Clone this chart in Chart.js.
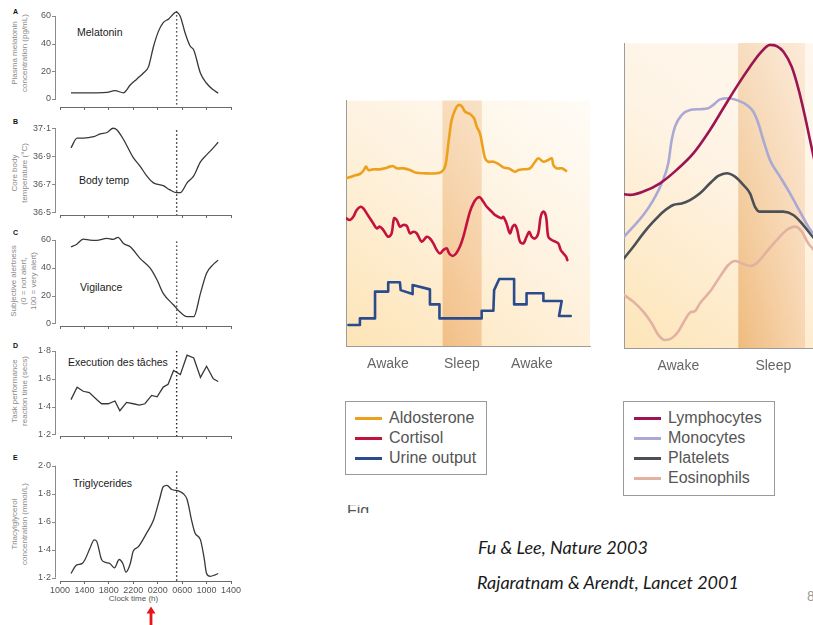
<!DOCTYPE html>
<html><head><meta charset="utf-8">
<script src="https://cdn.jsdelivr.net/npm/chart.js@4.4.1/dist/chart.umd.min.js"></script>
<style>
html,body{margin:0;padding:0;background:#fff;overflow:hidden;}
#wrap{position:relative;width:813px;height:625px;overflow:hidden;font-family:"Liberation Sans",Arial,sans-serif;background:#fff;}
canvas{position:absolute;}
.ylab{position:absolute;white-space:pre;text-align:center;font-size:8px;line-height:10px;color:#8a8a8a;transform:translate(-50%,-50%) rotate(-90deg);}
.letter{position:absolute;font-weight:bold;font-size:7px;line-height:8px;color:#111;}
.ptitle{position:absolute;font-size:10.5px;line-height:12px;color:#1a1a1a;white-space:nowrap;}
.legend{position:absolute;border:1px solid #9a9a9a;box-sizing:border-box;background:#fff;}
.li{position:absolute;font-size:16px;line-height:20px;color:#555;white-space:nowrap;}
.sw{position:absolute;height:3px;}
.cite{position:absolute;font-family:Lato,"Liberation Sans",sans-serif;font-style:italic;font-size:18px;line-height:20px;color:#1a1a1a;white-space:nowrap;}
</style></head>
<body><div id="wrap">
<div class="letter" style="left:13px;top:8px">A</div>
<div class="letter" style="left:13px;top:118px">B</div>
<div class="letter" style="left:13px;top:229px">C</div>
<div class="letter" style="left:13px;top:342px">D</div>
<div class="letter" style="left:13px;top:454px">E</div>
<div class="ptitle" style="left:77px;top:26px">Melatonin</div>
<div class="ptitle" style="left:79px;top:174px">Body temp</div>
<div class="ptitle" style="left:80px;top:281px">Vigilance</div>
<div class="ptitle" style="left:68px;top:356px">Execution des tâches</div>
<div class="ptitle" style="left:73px;top:477px">Triglycerides</div>
<div class="ylab" style="left:20px;top:53px">Plasma melatonin
concentration (pg/mL)</div>
<div class="ylab" style="left:20px;top:173px">Core body
temperature (°C)</div>
<div class="ylab" style="left:24px;top:281px">Subjective alertness
(0 = not alert,
100 = very alert)</div>
<div class="ylab" style="left:20px;top:391px">Task performance
reaction time (secs)</div>
<div class="ylab" style="left:20px;top:524px">Triacylglycerol
concentration (mmol/L)</div>
<div style="position:absolute;left:96px;top:594px;width:75px;text-align:center;font-size:8px;line-height:10px;color:#555">Clock time (h)</div>
<svg style="position:absolute;left:140px;top:600px" width="22" height="25"><polygon points="6.5,13.5 11,6.5 15.5,13.5" fill="#e8141c"/><rect x="9.6" y="13" width="2.8" height="12" fill="#e8141c"/></svg>
<div id="leg1" class="legend" style="left:345px;top:401px;width:142px;height:74px"></div>
<div id="leg2" class="legend" style="left:623px;top:401px;width:152px;height:95px"></div>
<div style="position:absolute;left:347px;top:505px;height:8px;overflow:hidden"><div style="font-size:16px;line-height:16px;color:#555;margin-top:-2px">Fig</div></div>
<div class="cite" style="left:478px;top:537px">Fu &amp; Lee, Nature 2003</div>
<div class="cite" style="left:477px;top:572px">Rajaratnam &amp; Arendt, Lancet 2001</div>
<div style="position:absolute;left:807px;top:588px;font-family:Lato,sans-serif;font-size:13px;line-height:16px;color:#999">8</div>
</div>
<script>
// ---------------- DATA ----------------
const timeTickHours = [10, 14, 18, 22, 26, 30, 34, 38];
const timeTickLabels = ['1000', '1400', '1800', '2200', '0200', '0600', '1000', '1400'];
const sleepMidHour = 29.1;

const melatoninHours = [11.8,14,16,17.7,19.0,20.4,21.5,22.6,23.7,24.5,25.3,26.1,26.9,27.8,28.6,29.0,29.7,30.5,31.3,31.9,33.0,34.0,35.1,35.9];
const melatoninValues = [4.5,4.5,4.5,4.8,6.0,4.5,10.1,14.5,19.0,23.4,37.8,48.7,55.2,57.9,61.6,62.8,59.7,47.5,38.3,35.4,18.6,11.4,6.6,4.2];
const melatoninTicks = [0, 20, 40, 60];

const bodyTempHours = [11.8,12.8,13.8,15.5,16.6,17.7,18.7,19.3,20.4,22.0,23.1,24.2,25.3,26.9,28.0,29.1,29.7,30.8,31.9,33.0,34.0,35.1,35.9];
const bodyTempValues = [36.96,37.03,37.03,37.04,37.06,37.07,37.10,37.09,37.02,36.89,36.83,36.76,36.71,36.69,36.66,36.64,36.64,36.71,36.76,36.86,36.91,36.96,37.00];
const bodyTempTicks = [36.5, 36.7, 36.9, 37.1];

const vigilanceHours = [11.8,12.7,13.8,14.9,16.0,17.7,18.7,19.5,20.4,21.5,23.1,24.8,25.9,26.9,28.6,29.7,30.8,31.9,33.0,34.0,35.1,35.9];
const vigilanceValues = [55.1,56.8,60.6,59.9,59.7,61.1,60.4,61.9,57.5,55.1,46.8,39.6,31.2,21.6,13.2,7.9,4.8,4.8,21.6,36.0,42.4,45.5];
const vigilanceTicks = [0, 20, 40, 60];

const taskHours = [11.8,12.8,13.8,14.8,16.0,16.8,17.9,19.0,19.8,20.9,22.0,23.0,23.9,25.0,25.9,26.9,27.7,28.6,29.7,30.8,31.9,33.0,34.0,35.1,35.9];
const taskValues = [1.45,1.54,1.51,1.50,1.45,1.42,1.42,1.44,1.37,1.43,1.42,1.41,1.42,1.48,1.47,1.54,1.56,1.66,1.63,1.77,1.75,1.61,1.69,1.60,1.58];
const taskTicks = [1.2, 1.4, 1.6, 1.8];

const trigHours = [11.8,12.7,13.6,14.1,14.9,15.6,16.0,16.8,17.4,18.2,18.9,19.7,20.3,20.8,21.5,22.0,22.8,24.2,25.3,26.3,26.9,27.5,28.3,29.4,30.2,30.8,31.6,32.1,33.0,33.6,34.0,34.6,35.4,35.9];
const trigValues = [1.23,1.29,1.30,1.33,1.41,1.47,1.46,1.33,1.31,1.30,1.27,1.33,1.30,1.24,1.30,1.39,1.42,1.52,1.61,1.76,1.85,1.86,1.83,1.82,1.80,1.76,1.60,1.52,1.47,1.34,1.23,1.21,1.22,1.23];
const trigTicks = [1.2, 1.4, 1.6, 1.8, 2.0];

// middle chart (relative time 0-100, relative level 0-100)
const midTickPos = [17.2, 47.5, 76.2];
const midTickLabels = ['Awake', 'Sleep', 'Awake'];
const midSleep = [39.6, 55.6];
const midNames = ['Aldosterone', 'Cortisol', 'Urine output'];
const aldoX = [0,3.0,5.7,7.1,8.2,9.2,11.2,13.9,16.0,18.0,19.4,20.8,23.5,26.2,28.9,31.7,37.2,39.2,40.6,41.3,42.3,43.3,44.7,46.0,47.4,48.8,50.8,52.5,53.6,54.9,56.0,57.0,58.3,60.4,62.4,64.5,66.5,67.9,69.3,70.6,72.7,75.4,77.5,78.8,80.9,82.9,84.3,85.0,86.3,88.4,90.2];
const aldoY = [68.4,69.4,70.2,71.5,73.2,71.8,72.1,72.1,72.5,73.2,73.4,72.5,72.5,71.8,70.7,70.5,70.5,71.1,73.2,77.2,85.4,92.1,96.2,98.2,97.8,95.5,94.6,92.8,89.4,86.7,81.3,76.6,75.2,75.2,74.3,72.9,72.5,71.8,71.1,71.8,72.1,72.5,75.2,76.6,75.2,75.9,76.6,73.8,72.5,72.5,71.5];
const cortX = [0,1.6,3.0,4.4,6.0,7.1,8.5,9.8,11.2,12.6,13.9,15.3,17.3,18.7,19.7,20.8,22.1,23.5,24.9,26.2,27.6,29.0,31.0,33.1,34.4,35.8,37.2,38.5,39.9,41.3,42.3,43.7,45.1,46.7,48.1,49.5,50.8,52.2,53.6,54.9,56.3,57.7,59.7,61.1,62.4,63.8,64.5,65.8,67.2,68.3,69.3,70.2,71.3,72.7,74.0,75.1,76.1,77.5,78.8,79.8,80.9,82.0,82.9,84.3,85.7,87.0,88.0,89.1,90.2,90.7];
const cortY = [52.2,51.5,52.8,55.6,56.9,56.2,54.2,52.2,50.1,48.1,48.8,47.4,44.7,46.1,52.2,51.5,48.8,49.5,49.1,46.1,46.7,46.1,42.7,44.7,44.0,42.0,39.3,37.9,39.3,40.0,37.9,36.9,37.9,40.7,44.7,50.1,54.9,58.3,60.3,60.7,58.9,56.9,54.9,53.5,52.8,52.2,52.8,50.1,46.1,48.8,49.5,47.4,42.7,42.0,44.7,46.7,44.7,44.0,46.1,52.8,54.9,52.8,44.7,43.4,42.7,42.0,39.3,37.9,36.6,35.2];
const urineX = [1.0,5.7,5.7,11.9,11.9,17.3,17.3,22.1,22.4,27.3,27.3,34.4,34.4,38.3,38.3,55.6,55.6,60.4,60.7,62.8,68.9,68.9,74.0,74.0,80.9,80.9,88.4,87.3,92.1];
const urineY = [8.8,8.8,11.5,11.5,22.4,22.4,26.2,26.2,23.0,21.4,25.1,23.3,17.2,17.2,11.5,11.5,14.6,14.6,23.0,27.5,27.5,17.2,17.2,21.7,21.7,18.6,18.6,12.5,12.5];

// right chart
const rightTickPos = [54.3, 149.3];
const rightTickLabels = ['Awake', 'Sleep'];
const rightSleep = [114.3, 181];
const rightNames = ['Lymphocytes', 'Monocytes', 'Platelets', 'Eosinophils'];
const lymphX = [0,6,19.3,36,52.7,69.3,86,99.3,112.7,126,136,146,152.7,159.3,167.7,174.3,181,186,191];
const lymphY = [50.5,50.3,51.4,54.1,58.5,63.9,71.6,78.7,85.8,92.3,96.7,99.5,99.1,97.3,92.3,85.2,76.0,68.3,60.7];
const monoX = [0,9.3,19.3,29.3,37.7,44.3,47.7,51,57.7,66,76,84.3,89.3,96,104.3,114.3,122.7,129.3,134.3,139.3,146,156,166,176,184.3,190];
const monoY = [36.6,39.9,43.7,48.6,54.1,60.7,68.3,72.7,76.5,78.1,78.4,78.7,79.8,81.6,82.0,81.2,79.8,77.6,73.8,68.3,61.7,56.3,50.8,44.8,39.9,37.2];
const platX = [0,9.3,19.3,29.3,39.3,49.3,57.7,66,76,86,94.3,102.7,111,119.3,126,131,136,146,159.3,169.3,179.3,186,190];
const platY = [29.5,33.3,37.7,41.5,44.8,47.0,47.5,48.6,50.8,54.1,56.5,57.4,56.3,53.6,50.8,46.4,44.8,44.8,44.8,43.7,40.4,37.7,36.1];
const eosX = [0,9.3,19.3,27.7,34.3,41,47.7,54.3,61,66,71,76,86,96,104.3,111,117.7,126,132.7,142.7,152.7,162.7,171,177.7,184.3,190];
const eosY = [17.5,15.3,12.0,8.2,4.4,2.7,3.3,5.5,9.3,11.7,12.2,14.8,18.6,23.5,27.3,28.6,27.9,27.0,27.9,31.7,35.5,38.8,39.9,38.3,34.4,32.2];

// ---------------- STYLE / LAYOUT ----------------
const midColors = ['#eca01c', '#c4123f', '#2b4c8c'];
const rightColors = ['#9b1553', '#a9a9d4', '#4b5056', '#e3b1a2'];

Chart.defaults.font.family = '"Liberation Sans", Arial, Helvetica, sans-serif';
Chart.defaults.animation = false;
const wrap = document.getElementById('wrap');
const pts = (xs, ys) => xs.map((x, i) => ({x: x, y: ys[i]}));
const dotFmt = v => (Math.round(v * 10) / 10).toFixed(1).replace('.', '·');

const leftAxisPlugin = {
  id: 'leftAxis',
  afterDraw(chart) {
    const y = chart.scales.y, ctx = chart.ctx;
    const tk = y.ticks;
    const x = chart.chartArea.left - 4.5;
    const pT = y.getPixelForValue(tk[tk.length - 1].value);
    const pB = y.getPixelForValue(tk[0].value);
    ctx.save();
    ctx.strokeStyle = '#8a8a8a'; ctx.lineWidth = 1;
    ctx.beginPath();
    ctx.moveTo(x, pT); ctx.lineTo(x, pB);
    tk.forEach(t => { const p = Math.round(y.getPixelForValue(t.value)) + 0.5; ctx.moveTo(x - 3.5, p); ctx.lineTo(x + 0.5, p); });
    ctx.stroke();
    ctx.restore();
  }
};

function makeLeftPanel(cfg) {
  const padTop = 4, xh = cfg.showX ? 16 : 8, W = 250;
  const cv = document.createElement('canvas');
  cv.width = W; cv.height = Math.round(cfg.cb - cfg.ct + padTop + xh);
  cv.style.left = '0px'; cv.style.top = (cfg.ct - padTop) + 'px';
  wrap.appendChild(cv);
  new Chart(cv, {
    type: 'line',
    data: { datasets: [
      { data: pts(cfg.hours, cfg.values), borderColor: '#383838', borderWidth: 1.3, pointRadius: 0,
        tension: cfg.tension, cubicInterpolationMode: cfg.mono ? 'monotone' : 'default', fill: false },
      { data: [{x: sleepMidHour, y: cfg.dotTop}, {x: sleepMidHour, y: cfg.min}], borderColor: '#222',
        borderWidth: 1.4, borderDash: [1.4, 2.6], pointRadius: 0, tension: 0, fill: false }
    ]},
    options: {
      responsive: false, devicePixelRatio: 1, animation: false,
      layout: { padding: { top: padTop, left: 0, right: W - 231, bottom: 0 } },
      plugins: { legend: { display: false }, tooltip: { enabled: false } },
      scales: {
        x: { type: 'linear', min: 10, max: 38,
          afterBuildTicks: s => { s.ticks = timeTickHours.map(v => ({value: v})); },
          afterFit: s => { s.height = xh; s.paddingLeft = 0; s.paddingRight = 0; },
          grid: { display: true, drawOnChartArea: false, drawTicks: true, tickLength: 3, color: '#6a6a6a' },
          border: { display: true, color: '#6a6a6a', width: 1 },
          ticks: { display: cfg.showX, autoSkip: false, maxRotation: 0, padding: 1, font: { size: 9 }, color: '#555',
            callback: (v, i) => timeTickLabels[i] } },
        y: { type: 'linear', min: cfg.min, max: cfg.max,
          afterBuildTicks: s => { s.ticks = cfg.ticks.map(v => ({value: v})); },
          afterFit: s => { s.width = 60; s.paddingTop = 0; s.paddingBottom = 0; },
          grid: { display: false, drawTicks: false }, border: { display: false },
          ticks: { autoSkip: false, padding: 9, font: { size: 9 }, color: '#555', callback: v => cfg.fmt(v) } }
      }
    },
    plugins: [leftAxisPlugin]
  });
}

makeLeftPanel({ hours: melatoninHours, values: melatoninValues, ticks: melatoninTicks, ct: 8, cb: 107, min: -5.78, max: 65.78, dotTop: 63.5, mono: true, tension: 0.4, fmt: v => String(v), showX: false });
makeLeftPanel({ hours: bodyTempHours, values: bodyTempValues, ticks: bodyTempTicks, ct: 120, cb: 215, min: 36.481, max: 37.159, dotTop: 37.085, mono: true, tension: 0.4, fmt: dotFmt, showX: false });
makeLeftPanel({ hours: vigilanceHours, values: vigilanceValues, ticks: vigilanceTicks, ct: 232, cb: 326, min: -1.94, max: 65.76, dotTop: 59, mono: true, tension: 0.4, fmt: v => String(v), showX: false });
makeLeftPanel({ hours: taskHours, values: taskValues, ticks: taskTicks, ct: 343, cb: 436, min: 1.1878, max: 1.8576, dotTop: 1.80, mono: false, tension: 0, fmt: dotFmt, showX: false });
makeLeftPanel({ hours: trigHours, values: trigValues, ticks: trigTicks, ct: 458, cb: 581, min: 1.1764, max: 2.055, dotTop: 1.96, mono: true, tension: 0.4, fmt: dotFmt, showX: true });

const bgPlugin = {
  id: 'bg',
  beforeDraw(chart, args, o) {
    const {ctx, chartArea: a, scales: {x}} = chart;
    ctx.save();
    let g = ctx.createLinearGradient(a.left, a.bottom, a.left + o.fadeW, a.top - o.fadeW * 0.3);
    g.addColorStop(0, o.awake0); g.addColorStop(0.45, o.awake1); g.addColorStop(1, o.awake2);
    ctx.fillStyle = g;
    ctx.fillRect(a.left, a.top, a.right - a.left, a.bottom - a.top);
    const x0 = x.getPixelForValue(o.band[0]), x1 = x.getPixelForValue(o.band[1]);
    g = ctx.createLinearGradient(x0, 0, x1, 0);
    g.addColorStop(0, o.sleep0); g.addColorStop(1, o.sleep1);
    ctx.fillStyle = g;
    ctx.fillRect(x0, a.top, x1 - x0, a.bottom - a.top);
    g = ctx.createLinearGradient(0, a.bottom, 0, a.top);
    g.addColorStop(0, 'rgba(255,255,255,0)'); g.addColorStop(1, 'rgba(255,255,255,' + o.topWash + ')');
    ctx.fillStyle = g;
    ctx.fillRect(x0, a.top, x1 - x0, a.bottom - a.top);
    ctx.restore();
  }
};

function makeCurveChart(cfg) {
  const cv = document.createElement('canvas');
  cv.width = cfg.W; cv.height = cfg.H;
  cv.style.left = cfg.left + 'px'; cv.style.top = cfg.top + 'px';
  wrap.appendChild(cv);
  new Chart(cv, {
    type: 'line',
    data: { datasets: cfg.series.map(s => ({
      data: pts(s.x, s.y), borderColor: s.color, borderWidth: 2.6, pointRadius: 0,
      tension: s.tension, cubicInterpolationMode: s.mono ? 'monotone' : 'default', fill: false,
      borderJoinStyle: 'round', borderCapStyle: 'round' })) },
    options: {
      responsive: false, devicePixelRatio: 1, animation: false,
      layout: { padding: { top: cfg.padTop, left: 0, right: cfg.padRight, bottom: 0 } },
      plugins: { legend: { display: false }, tooltip: { enabled: false }, bg: cfg.bg },
      scales: {
        x: { type: 'linear', min: 0, max: cfg.xmax,
          afterBuildTicks: s => { s.ticks = cfg.tickPos.map(v => ({value: v})); },
          afterFit: s => { s.height = cfg.xh; s.paddingLeft = 0; s.paddingRight = 0; },
          grid: { display: false, drawTicks: false },
          border: { display: true, color: '#9c9c9c', width: 1 },
          ticks: { autoSkip: false, maxRotation: 0, padding: 9, font: { size: 14 }, color: '#666',
            callback: (v, i) => cfg.tickLabels[i] } },
        y: { type: 'linear', min: 0, max: 100,
          afterFit: s => { s.width = cfg.yw; s.paddingTop = 0; s.paddingBottom = 0; },
          grid: { display: false, drawTicks: false },
          border: { display: true, color: '#9c9c9c', width: 1 },
          ticks: { display: false } }
      }
    },
    plugins: [bgPlugin]
  });
}

makeCurveChart({
  left: 300, top: 90, W: 300, H: 290, padTop: 10.7, padRight: 10, yw: 46, xh: 33.3, xmax: 100,
  tickPos: midTickPos, tickLabels: midTickLabels,
  bg: { band: midSleep, fadeW: 244, awake0: '#fde4b6', awake1: '#fef2df', awake2: '#ffffff',
        sleep0: '#f2bf85', sleep1: '#f5c998', topWash: 0.45 },
  series: [
    { x: aldoX, y: aldoY, color: midColors[0], tension: 0.35 },
    { x: cortX, y: cortY, color: midColors[1], tension: 0.35 },
    { x: urineX, y: urineY, color: midColors[2], tension: 0 }
  ]
});

makeCurveChart({
  left: 600, top: 30, W: 300, H: 350, padTop: 13.3, padRight: 10, yw: 24, xh: 31.7, xmax: 266,
  tickPos: rightTickPos, tickLabels: rightTickLabels,
  bg: { band: rightSleep, fadeW: 260, awake0: '#fde5b8', awake1: '#fef3e4', awake2: '#fffaf5',
        sleep0: '#efbb7e', sleep1: '#f8d6b2', topWash: 0.5 },
  series: [
    { x: lymphX, y: lymphY, color: rightColors[0], mono: true },
    { x: monoX, y: monoY, color: rightColors[1], mono: true },
    { x: platX, y: platY, color: rightColors[2], mono: true },
    { x: eosX, y: eosY, color: rightColors[3], mono: true }
  ]
});

// HTML legends built from series names / colours
function buildLegend(id, names, colors, swLeft, txtLeft) {
  const box = document.getElementById(id);
  names.forEach((n, i) => {
    const cy = 16.3 + i * 20;
    const sw = document.createElement('div');
    sw.className = 'sw'; sw.style.left = swLeft + 'px'; sw.style.width = '27px';
    sw.style.top = (cy - 1.5) + 'px'; sw.style.background = colors[i];
    box.appendChild(sw);
    const t = document.createElement('div');
    t.className = 'li'; t.textContent = n; t.style.left = txtLeft + 'px'; t.style.top = (cy - 10) + 'px';
    box.appendChild(t);
  });
}
buildLegend('leg1', midNames, midColors, 9, 43);
buildLegend('leg2', rightNames, rightColors, 10, 44);
</script>
</body></html>
